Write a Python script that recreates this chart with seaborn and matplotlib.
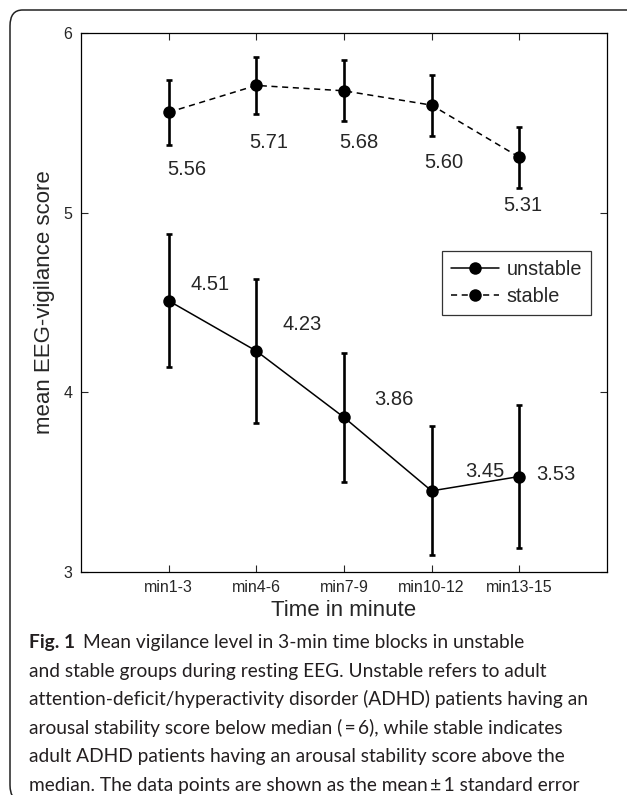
import numpy as np
import pandas as pd
import matplotlib
matplotlib.use("Agg")
import matplotlib.pyplot as plt
import seaborn as sns
from matplotlib.patches import FancyBboxPatch

# data
blocks = ["min1-3", "min4-6", "min7-9", "min10-12", "min13-15"]
unstable_mean = [4.51, 4.23, 3.86, 3.45, 3.53]
unstable_se = [0.37, 0.40, 0.36, 0.36, 0.40]
stable_mean = [5.56, 5.71, 5.68, 5.60, 5.31]
stable_se = [0.18, 0.16, 0.17, 0.17, 0.17]

# where the value labels sit (data coords)
unstable_lab_xy = [(1.47, 4.60), (2.52, 4.38), (3.57, 3.96), (4.61, 3.56), (5.42, 3.54)]
stable_lab_xy = [(1.21, 5.24), (2.14, 5.39), (3.17, 5.39), (4.14, 5.28), (5.04, 5.04)]

caption_lines = [
    "Mean vigilance level in 3-min time blocks in unstable",
    "and stable groups during resting EEG. Unstable refers to adult",
    "attention-deficit/hyperactivity disorder (ADHD) patients having an",
    "arousal stability score below median (\u2009=\u20096), while stable indicates",
    "adult ADHD patients having an arousal stability score above the",
    "median. The data points are shown as the mean\u2009\u00b1\u20091 standard error",
]

sns.set_theme(style="white")
plt.rcParams["font.family"] = ["Liberation Sans", "DejaVu Sans"]

xs = np.arange(1, len(blocks) + 1)
df = pd.DataFrame({
    "x": np.concatenate([xs, xs]),
    "score": unstable_mean + stable_mean,
    "group": ["unstable"] * 5 + ["stable"] * 5,
})

fig = plt.figure(figsize=(6.27, 7.95), dpi=100)
ax = fig.add_axes([0.129, 0.281, 0.839, 0.677])

ax.errorbar(xs, unstable_mean, yerr=unstable_se, fmt="none", ecolor="black",
            elinewidth=1.9, capsize=2.5, capthick=1.9, zorder=2)
ax.errorbar(xs, stable_mean, yerr=stable_se, fmt="none", ecolor="black",
            elinewidth=1.9, capsize=2.5, capthick=1.9, zorder=2)
sns.lineplot(data=df, x="x", y="score", style="group", hue="group",
             palette={"unstable": "black", "stable": "black"},
             dashes={"unstable": "", "stable": (4, 3)},
             markers={"unstable": "o", "stable": "o"},
             markersize=9, markeredgewidth=0, linewidth=1.1, ax=ax, zorder=3)

for (tx, ty), v in zip(unstable_lab_xy, unstable_mean):
    ax.text(tx, ty, f"{v:.2f}", ha="center", va="center", fontsize=14.5)
for (tx, ty), v in zip(stable_lab_xy, stable_mean):
    ax.text(tx, ty, f"{v:.2f}", ha="center", va="center", fontsize=14.5)

ax.set_xlim(0, 6)
ax.set_ylim(3, 6)
ax.set_xticks(xs)
ax.set_xticklabels(blocks, fontsize=11.5)
ax.set_yticks([3, 4, 5, 6])
ax.set_yticklabels(["3", "4", "5", "6"], fontsize=11.5)
ax.tick_params(direction="in", length=5, width=0.8, top=True, right=True,
               bottom=True, left=True, pad=6)
for s in ax.spines.values():
    s.set_color("black")
    s.set_linewidth(0.9)
ax.set_xlabel("Time in minute", fontsize=16, labelpad=4)
ax.set_ylabel("mean EEG-vigilance score", fontsize=16, labelpad=6)

handles, labels = ax.get_legend_handles_labels()
leg = ax.legend(handles, labels, loc="upper right", bbox_to_anchor=(0.97, 0.596),
                fontsize=14.3, frameon=True, fancybox=False, edgecolor="black",
                handlelength=2.4, borderpad=0.45, labelspacing=0.4,
                handletextpad=0.4, borderaxespad=0)
leg.get_frame().set_linewidth(0.9)

# caption
cap_font = ["Lato", "DejaVu Sans"]
cap_size = 13.8
y0 = 1 - 648 / 795
dy = 28.6 / 795
x0 = 29 / 627
fig.canvas.draw()
r = fig.canvas.get_renderer()
bold = fig.text(x0, y0, "Fig. 1", fontsize=cap_size, fontweight="bold",
                family=cap_font, va="baseline", color="#231f20")
bb = bold.get_window_extent(r)
fig.text((bb.x1 + 8) / fig.bbox.width, y0, caption_lines[0], fontsize=cap_size,
         family=cap_font, va="baseline", color="#231f20")
for i, line in enumerate(caption_lines[1:], start=1):
    fig.text(x0, y0 - i * dy, line, fontsize=cap_size, family=cap_font,
             va="baseline", color="#231f20")

# rounded frame around the whole panel (runs off the right and bottom edges)
frame = FancyBboxPatch((10 / 627, -6 / 795), 1.03, 1 - 4 / 795,
                       boxstyle="round,pad=0,rounding_size=0.02",
                       transform=fig.transFigure, fill=False,
                       edgecolor="#222222", linewidth=1.1)
fig.patches.append(frame)

fig.savefig("out.png", dpi=100)
